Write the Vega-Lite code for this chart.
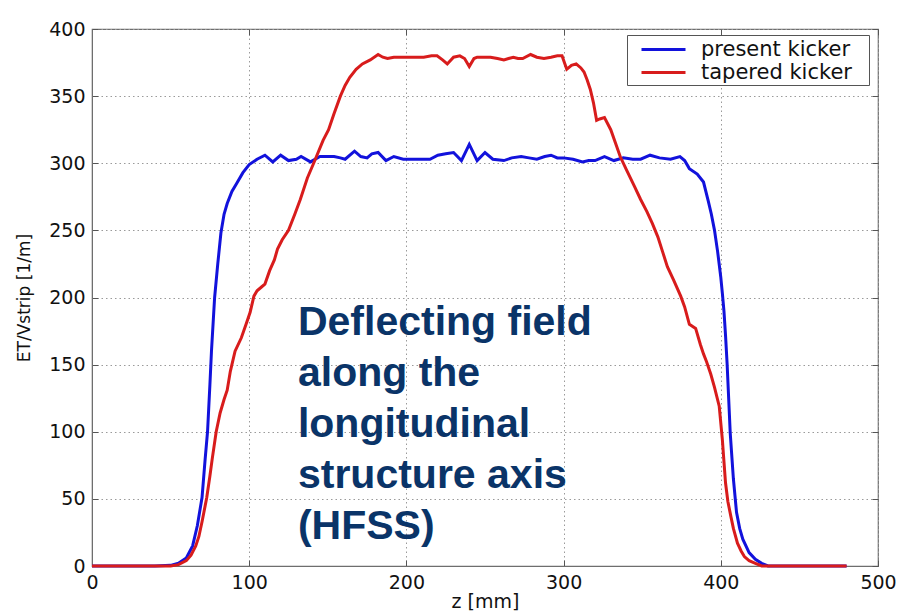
{
  "$schema": "https://vega.github.io/schema/vega-lite/v6.json",
  "width": 786,
  "height": 537,
  "autosize": {"type": "none"},
  "padding": {"left": 92, "top": 29, "right": 22, "bottom": 49},
  "background": "white",
  "config": {
    "view": {"stroke": "#6e6e6e", "strokeWidth": 1.2},
    "axis": {
      "labelFont": "DejaVu Sans",
      "labelFontSize": 19,
      "labelColor": "#111111",
      "titleFont": "DejaVu Sans",
      "titleFontWeight": "normal",
      "titleColor": "#111111",
      "domainColor": "#6e6e6e",
      "tickColor": "#555555",
      "tickSize": -6,
      "labelPadding": 13,
      "gridColor": "#9a9a9a",
      "gridDash": [1.5, 3],
      "gridWidth": 1,
      "labelOverlap": false,
      "labelFlush": false
    }
  },
  "resolve": {"axis": {"x": "independent", "y": "independent"}},
  "datasets": {
    "curves": [
      {"z": 0, "v": 0, "s": "present kicker"},
      {"z": 40, "v": 0, "s": "present kicker"},
      {"z": 50, "v": 0.5, "s": "present kicker"},
      {"z": 55, "v": 2, "s": "present kicker"},
      {"z": 60, "v": 6, "s": "present kicker"},
      {"z": 64, "v": 15, "s": "present kicker"},
      {"z": 67, "v": 30, "s": "present kicker"},
      {"z": 70, "v": 51, "s": "present kicker"},
      {"z": 72, "v": 80, "s": "present kicker"},
      {"z": 73.5, "v": 100, "s": "present kicker"},
      {"z": 75, "v": 135, "s": "present kicker"},
      {"z": 76, "v": 160, "s": "present kicker"},
      {"z": 78, "v": 200, "s": "present kicker"},
      {"z": 80, "v": 225, "s": "present kicker"},
      {"z": 82, "v": 248, "s": "present kicker"},
      {"z": 84, "v": 262, "s": "present kicker"},
      {"z": 86, "v": 270, "s": "present kicker"},
      {"z": 89, "v": 279, "s": "present kicker"},
      {"z": 92, "v": 285, "s": "present kicker"},
      {"z": 96, "v": 293, "s": "present kicker"},
      {"z": 100, "v": 299, "s": "present kicker"},
      {"z": 105, "v": 303, "s": "present kicker"},
      {"z": 110, "v": 306, "s": "present kicker"},
      {"z": 115, "v": 301, "s": "present kicker"},
      {"z": 120, "v": 306, "s": "present kicker"},
      {"z": 125, "v": 302, "s": "present kicker"},
      {"z": 130, "v": 303, "s": "present kicker"},
      {"z": 133, "v": 305, "s": "present kicker"},
      {"z": 139, "v": 301, "s": "present kicker"},
      {"z": 145, "v": 305, "s": "present kicker"},
      {"z": 150, "v": 305, "s": "present kicker"},
      {"z": 154, "v": 305, "s": "present kicker"},
      {"z": 158, "v": 304, "s": "present kicker"},
      {"z": 161, "v": 303, "s": "present kicker"},
      {"z": 167, "v": 309, "s": "present kicker"},
      {"z": 171, "v": 305, "s": "present kicker"},
      {"z": 175, "v": 304, "s": "present kicker"},
      {"z": 178, "v": 307, "s": "present kicker"},
      {"z": 182, "v": 308, "s": "present kicker"},
      {"z": 187, "v": 302, "s": "present kicker"},
      {"z": 192, "v": 305, "s": "present kicker"},
      {"z": 198, "v": 303, "s": "present kicker"},
      {"z": 205, "v": 303, "s": "present kicker"},
      {"z": 210, "v": 303, "s": "present kicker"},
      {"z": 215, "v": 303, "s": "present kicker"},
      {"z": 220, "v": 306, "s": "present kicker"},
      {"z": 225, "v": 307, "s": "present kicker"},
      {"z": 230, "v": 308, "s": "present kicker"},
      {"z": 235, "v": 302, "s": "present kicker"},
      {"z": 240, "v": 314, "s": "present kicker"},
      {"z": 245, "v": 302, "s": "present kicker"},
      {"z": 250, "v": 308, "s": "present kicker"},
      {"z": 255, "v": 303, "s": "present kicker"},
      {"z": 262, "v": 302, "s": "present kicker"},
      {"z": 267, "v": 304, "s": "present kicker"},
      {"z": 273, "v": 305, "s": "present kicker"},
      {"z": 278, "v": 304, "s": "present kicker"},
      {"z": 283, "v": 303, "s": "present kicker"},
      {"z": 288, "v": 305, "s": "present kicker"},
      {"z": 292, "v": 306, "s": "present kicker"},
      {"z": 296, "v": 304, "s": "present kicker"},
      {"z": 300, "v": 304, "s": "present kicker"},
      {"z": 306, "v": 303, "s": "present kicker"},
      {"z": 312, "v": 301, "s": "present kicker"},
      {"z": 316, "v": 302, "s": "present kicker"},
      {"z": 320, "v": 302, "s": "present kicker"},
      {"z": 326, "v": 305, "s": "present kicker"},
      {"z": 332, "v": 302, "s": "present kicker"},
      {"z": 338, "v": 304, "s": "present kicker"},
      {"z": 344, "v": 303, "s": "present kicker"},
      {"z": 349, "v": 303, "s": "present kicker"},
      {"z": 355, "v": 306, "s": "present kicker"},
      {"z": 361, "v": 304, "s": "present kicker"},
      {"z": 368, "v": 303, "s": "present kicker"},
      {"z": 374, "v": 305, "s": "present kicker"},
      {"z": 377, "v": 302, "s": "present kicker"},
      {"z": 380, "v": 296, "s": "present kicker"},
      {"z": 385, "v": 292, "s": "present kicker"},
      {"z": 389, "v": 286, "s": "present kicker"},
      {"z": 392, "v": 272, "s": "present kicker"},
      {"z": 394, "v": 262, "s": "present kicker"},
      {"z": 396, "v": 250, "s": "present kicker"},
      {"z": 398, "v": 234, "s": "present kicker"},
      {"z": 400, "v": 215, "s": "present kicker"},
      {"z": 401, "v": 203, "s": "present kicker"},
      {"z": 402, "v": 190, "s": "present kicker"},
      {"z": 403, "v": 172, "s": "present kicker"},
      {"z": 404, "v": 151, "s": "present kicker"},
      {"z": 406, "v": 99, "s": "present kicker"},
      {"z": 408, "v": 65, "s": "present kicker"},
      {"z": 410, "v": 40, "s": "present kicker"},
      {"z": 412, "v": 28, "s": "present kicker"},
      {"z": 414, "v": 20, "s": "present kicker"},
      {"z": 418, "v": 10, "s": "present kicker"},
      {"z": 422, "v": 5, "s": "present kicker"},
      {"z": 426, "v": 2, "s": "present kicker"},
      {"z": 430, "v": 0, "s": "present kicker"},
      {"z": 440, "v": 0, "s": "present kicker"},
      {"z": 480, "v": 0, "s": "present kicker"},
      {"z": 0, "v": 0, "s": "tapered kicker"},
      {"z": 40, "v": 0, "s": "tapered kicker"},
      {"z": 50, "v": 0, "s": "tapered kicker"},
      {"z": 55, "v": 1, "s": "tapered kicker"},
      {"z": 60, "v": 4, "s": "tapered kicker"},
      {"z": 63, "v": 8, "s": "tapered kicker"},
      {"z": 66, "v": 15, "s": "tapered kicker"},
      {"z": 68, "v": 22, "s": "tapered kicker"},
      {"z": 70, "v": 33, "s": "tapered kicker"},
      {"z": 72, "v": 45, "s": "tapered kicker"},
      {"z": 73, "v": 51, "s": "tapered kicker"},
      {"z": 75, "v": 67, "s": "tapered kicker"},
      {"z": 76.5, "v": 80, "s": "tapered kicker"},
      {"z": 79, "v": 100, "s": "tapered kicker"},
      {"z": 81.5, "v": 114, "s": "tapered kicker"},
      {"z": 84, "v": 124, "s": "tapered kicker"},
      {"z": 86, "v": 131, "s": "tapered kicker"},
      {"z": 88, "v": 145, "s": "tapered kicker"},
      {"z": 91, "v": 160, "s": "tapered kicker"},
      {"z": 95, "v": 170, "s": "tapered kicker"},
      {"z": 98, "v": 180, "s": "tapered kicker"},
      {"z": 100.6, "v": 189, "s": "tapered kicker"},
      {"z": 103, "v": 201, "s": "tapered kicker"},
      {"z": 105, "v": 205, "s": "tapered kicker"},
      {"z": 108, "v": 208, "s": "tapered kicker"},
      {"z": 110, "v": 210, "s": "tapered kicker"},
      {"z": 113, "v": 220, "s": "tapered kicker"},
      {"z": 116, "v": 228, "s": "tapered kicker"},
      {"z": 118, "v": 236, "s": "tapered kicker"},
      {"z": 121, "v": 243, "s": "tapered kicker"},
      {"z": 125, "v": 250, "s": "tapered kicker"},
      {"z": 129, "v": 262, "s": "tapered kicker"},
      {"z": 132.5, "v": 273, "s": "tapered kicker"},
      {"z": 137, "v": 289, "s": "tapered kicker"},
      {"z": 141, "v": 300, "s": "tapered kicker"},
      {"z": 147, "v": 317, "s": "tapered kicker"},
      {"z": 150.5, "v": 325, "s": "tapered kicker"},
      {"z": 154, "v": 337, "s": "tapered kicker"},
      {"z": 158, "v": 350, "s": "tapered kicker"},
      {"z": 161, "v": 358, "s": "tapered kicker"},
      {"z": 164, "v": 364, "s": "tapered kicker"},
      {"z": 168, "v": 370, "s": "tapered kicker"},
      {"z": 172, "v": 374, "s": "tapered kicker"},
      {"z": 177, "v": 377, "s": "tapered kicker"},
      {"z": 182, "v": 381, "s": "tapered kicker"},
      {"z": 185, "v": 379, "s": "tapered kicker"},
      {"z": 188, "v": 378, "s": "tapered kicker"},
      {"z": 192, "v": 379, "s": "tapered kicker"},
      {"z": 198, "v": 379, "s": "tapered kicker"},
      {"z": 205, "v": 379, "s": "tapered kicker"},
      {"z": 211, "v": 379, "s": "tapered kicker"},
      {"z": 216, "v": 380, "s": "tapered kicker"},
      {"z": 219.5, "v": 380, "s": "tapered kicker"},
      {"z": 223, "v": 377, "s": "tapered kicker"},
      {"z": 226, "v": 374, "s": "tapered kicker"},
      {"z": 230, "v": 379, "s": "tapered kicker"},
      {"z": 234, "v": 380, "s": "tapered kicker"},
      {"z": 237, "v": 378, "s": "tapered kicker"},
      {"z": 240, "v": 372, "s": "tapered kicker"},
      {"z": 243, "v": 378, "s": "tapered kicker"},
      {"z": 245, "v": 379, "s": "tapered kicker"},
      {"z": 250, "v": 379, "s": "tapered kicker"},
      {"z": 253.5, "v": 379, "s": "tapered kicker"},
      {"z": 258, "v": 378, "s": "tapered kicker"},
      {"z": 262, "v": 377, "s": "tapered kicker"},
      {"z": 265, "v": 378, "s": "tapered kicker"},
      {"z": 268, "v": 379, "s": "tapered kicker"},
      {"z": 271, "v": 378, "s": "tapered kicker"},
      {"z": 274, "v": 378, "s": "tapered kicker"},
      {"z": 279, "v": 381, "s": "tapered kicker"},
      {"z": 283, "v": 379, "s": "tapered kicker"},
      {"z": 287.5, "v": 378, "s": "tapered kicker"},
      {"z": 292, "v": 379, "s": "tapered kicker"},
      {"z": 296, "v": 380, "s": "tapered kicker"},
      {"z": 299, "v": 380, "s": "tapered kicker"},
      {"z": 302, "v": 370, "s": "tapered kicker"},
      {"z": 305, "v": 373, "s": "tapered kicker"},
      {"z": 308, "v": 374, "s": "tapered kicker"},
      {"z": 311, "v": 371, "s": "tapered kicker"},
      {"z": 313, "v": 368, "s": "tapered kicker"},
      {"z": 315, "v": 362, "s": "tapered kicker"},
      {"z": 317, "v": 355, "s": "tapered kicker"},
      {"z": 319, "v": 345, "s": "tapered kicker"},
      {"z": 321, "v": 332, "s": "tapered kicker"},
      {"z": 323, "v": 333, "s": "tapered kicker"},
      {"z": 326, "v": 334, "s": "tapered kicker"},
      {"z": 330, "v": 325, "s": "tapered kicker"},
      {"z": 333, "v": 315, "s": "tapered kicker"},
      {"z": 336, "v": 305, "s": "tapered kicker"},
      {"z": 340, "v": 295, "s": "tapered kicker"},
      {"z": 345, "v": 283, "s": "tapered kicker"},
      {"z": 349, "v": 273, "s": "tapered kicker"},
      {"z": 353, "v": 264, "s": "tapered kicker"},
      {"z": 356.5, "v": 255, "s": "tapered kicker"},
      {"z": 360, "v": 245, "s": "tapered kicker"},
      {"z": 363, "v": 234, "s": "tapered kicker"},
      {"z": 366, "v": 223, "s": "tapered kicker"},
      {"z": 370, "v": 213, "s": "tapered kicker"},
      {"z": 374.5, "v": 201, "s": "tapered kicker"},
      {"z": 377, "v": 193, "s": "tapered kicker"},
      {"z": 380, "v": 180, "s": "tapered kicker"},
      {"z": 384, "v": 177, "s": "tapered kicker"},
      {"z": 387, "v": 165, "s": "tapered kicker"},
      {"z": 389, "v": 158, "s": "tapered kicker"},
      {"z": 391, "v": 152, "s": "tapered kicker"},
      {"z": 393.6, "v": 143, "s": "tapered kicker"},
      {"z": 396, "v": 133, "s": "tapered kicker"},
      {"z": 399, "v": 119, "s": "tapered kicker"},
      {"z": 401, "v": 94, "s": "tapered kicker"},
      {"z": 403, "v": 62, "s": "tapered kicker"},
      {"z": 404.5, "v": 48, "s": "tapered kicker"},
      {"z": 406.4, "v": 37, "s": "tapered kicker"},
      {"z": 408, "v": 28, "s": "tapered kicker"},
      {"z": 410.6, "v": 17, "s": "tapered kicker"},
      {"z": 413, "v": 11, "s": "tapered kicker"},
      {"z": 415, "v": 7, "s": "tapered kicker"},
      {"z": 418, "v": 4, "s": "tapered kicker"},
      {"z": 422, "v": 2, "s": "tapered kicker"},
      {"z": 426, "v": 0, "s": "tapered kicker"},
      {"z": 440, "v": 0, "s": "tapered kicker"},
      {"z": 480, "v": 0, "s": "tapered kicker"}
    ],
    "note": [
      {"z": 131, "v": 172, "label": "Deflecting field\nalong the\nlongitudinal\nstructure axis\n(HFSS)"}
    ]
  },
  "layer": [
    {
      "data": {"name": "curves"},
      "mark": {"type": "line", "strokeWidth": 3, "interpolate": "linear"},
      "encoding": {
        "x": {
          "field": "z",
          "type": "quantitative",
          "scale": {"domain": [0, 500], "nice": false, "zero": false},
          "axis": {"title": "z [mm]", "titleFontSize": 19, "values": [0, 100, 200, 300, 400, 500], "titlePadding": 0}
        },
        "y": {
          "field": "v",
          "type": "quantitative",
          "scale": {"domain": [0, 400], "nice": false},
          "axis": {"title": "ET/Vstrip [1/m]", "titleFontSize": 17, "values": [0, 50, 100, 150, 200, 250, 300, 350, 400], "titlePadding": 15}
        },
        "color": {
          "field": "s",
          "type": "nominal",
          "scale": {"domain": ["present kicker", "tapered kicker"], "range": ["#1212dc", "#d81c1c"]},
          "legend": {
            "title": null,
            "orient": "none",
            "legendX": 535,
            "legendY": 6,
            "fillColor": "white",
            "strokeColor": "#555555",
            "padding": 2,
            "symbolType": "M-2,0H2",
            "symbolSize": 484,
            "symbolStrokeWidth": 3,
            "symbolOffset": 22,
            "labelFont": "DejaVu Sans",
            "labelFontSize": 21,
            "labelColor": "#111111",
            "labelOffset": 25,
            "labelLimit": 400,
            "labelExpr": "datum.label + '\u2002\u2009\u200b'",
            "rowPadding": 0,
            "cornerRadius": 0
          }
        },
        "order": {"field": "z", "type": "quantitative"}
      }
    },
    {
      "data": {"name": "note"},
      "mark": {"type": "point", "opacity": 0},
      "encoding": {
        "x": {
          "field": "z",
          "type": "quantitative",
          "axis": {"orient": "top", "labels": false, "title": null, "grid": false, "domain": false, "values": [0, 100, 200, 300, 400, 500]}
        },
        "y": {
          "field": "v",
          "type": "quantitative",
          "axis": {"orient": "right", "labels": false, "title": null, "grid": false, "domain": false, "values": [0, 50, 100, 150, 200, 250, 300, 350, 400]}
        }
      }
    },
    {
      "data": {"name": "note"},
      "mark": {
        "type": "text",
        "align": "left",
        "baseline": "alphabetic",
        "font": "Liberation Sans",
        "fontWeight": "bold",
        "fontSize": 41,
        "lineHeight": 51,
        "lineBreak": "\n",
        "color": "#0a3468"
      },
      "encoding": {
        "x": {"field": "z", "type": "quantitative", "axis": null},
        "y": {"field": "v", "type": "quantitative", "axis": null},
        "text": {"field": "label", "type": "nominal"}
      }
    }
  ]
}
